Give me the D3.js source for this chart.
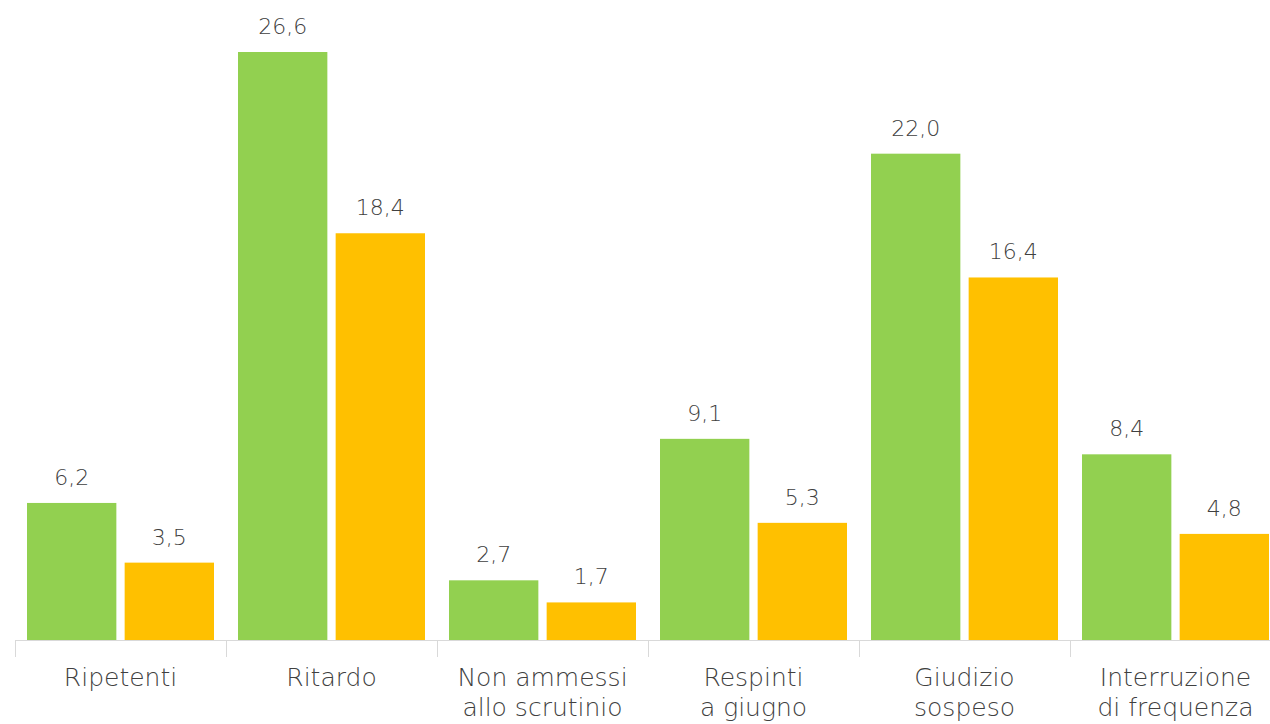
<!DOCTYPE html>
<meta charset="utf-8">
<style>
    body { margin: 0; background: #fff; }
    .axis path, .axis line { fill: none; stroke: #d9d9d9; shape-rendering: crispEdges; }
    text { font-family: "DejaVu Sans", sans-serif; font-weight: 200; fill: #404040; }
</style>
<svg width="1270" height="724"></svg>
<script src="https://cdn.jsdelivr.net/npm/d3@7"></script>
<script>
    var categories = [
        ["Ripetenti"],
        ["Ritardo"],
        ["Non ammessi", "allo scrutinio"],
        ["Respinti", "a giugno"],
        ["Giudizio", "sospeso"],
        ["Interruzione", "di frequenza"]
    ];
    var seriesNames = ["A", "B"];
    var greenValues = [6.2, 26.6, 2.7, 9.1, 22.0, 8.4];
    var orangeValues = [3.5, 18.4, 1.7, 5.3, 16.4, 4.8];
    var colors = ["#92d050", "#ffc000"];

    (function () {
        var svg = d3.select("svg"),
            left = 15, step = 211, baseline = 640,
            keys = categories.map(function (c, i) { return i; }),
            x0 = d3.scaleBand().domain(keys).range([left, left + step * keys.length])
                .paddingInner(0).paddingOuter(0),
            x1 = d3.scaleBand().domain(seriesNames).range([12, step - 12]).paddingInner(0.085),
            y = d3.scaleLinear().domain([0, 26.6]).range([baseline, 52]),
            fmt = function (v) { return d3.format(".1f")(v).replace(".", ","); };

        var rows = keys.map(function (i) {
            return { i: i, vals: [greenValues[i], orangeValues[i]] };
        });

        // axis with ticks between the categories
        var axis = svg.append("g").attr("class", "axis");
        axis.append("line")
            .attr("x1", left).attr("x2", 1270)
            .attr("y1", baseline + 0.5).attr("y2", baseline + 0.5);
        axis.selectAll("line.tick")
            .data(d3.range(keys.length + 1))
            .enter().append("line")
            .attr("class", "tick")
            .attr("x1", function (d) { return Math.round(left + d * step) + 0.5; })
            .attr("x2", function (d) { return Math.round(left + d * step) + 0.5; })
            .attr("y1", baseline).attr("y2", baseline + 17);

        var groups = svg.selectAll("g.grp")
            .data(rows)
            .enter().append("g")
            .attr("class", "grp")
            .attr("transform", function (d) { return "translate(" + x0(d.i) + ",0)"; });

        groups.selectAll("rect")
            .data(function (d) { return d.vals.map(function (v, j) { return { v: v, s: seriesNames[j], j: j }; }); })
            .enter().append("rect")
            .attr("x", function (d) { return x1(d.s); })
            .attr("y", function (d) { return y(d.v); })
            .attr("width", x1.bandwidth())
            .attr("height", function (d) { return baseline - y(d.v); })
            .attr("fill", function (d) { return colors[d.j]; });

        groups.selectAll("text.val")
            .data(function (d) { return d.vals.map(function (v, j) { return { v: v, s: seriesNames[j] }; }); })
            .enter().append("text")
            .attr("class", "val")
            .attr("x", function (d) { return x1(d.s) + x1.bandwidth() / 2; })
            .attr("y", function (d) { return y(d.v) - 18; })
            .attr("text-anchor", "middle")
            .style("font-size", "22px")
            .text(function (d) { return fmt(d.v); });

        groups.append("text")
            .attr("text-anchor", "middle")
            .attr("x", step / 2)
            .attr("y", 686)
            .style("font-size", "25px")
            .selectAll("tspan")
            .data(function (d) { return categories[d.i]; })
            .enter().append("tspan")
            .attr("x", step / 2)
            .attr("dy", function (d, k) { return k === 0 ? 0 : 30; })
            .text(function (d) { return d; });
    })();
</script>
